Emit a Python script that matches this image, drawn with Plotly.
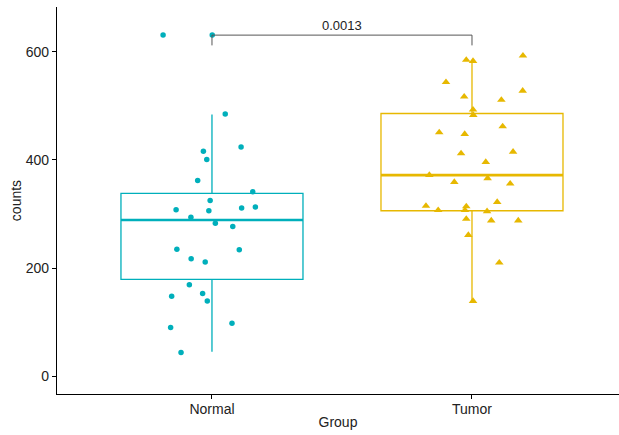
import plotly.graph_objects as go

# ---------------- data ----------------
groups = ["Normal", "Tumor"]
group_pos = [0, 1]
colors = ["#00AFBB", "#E7B800"]

normal_counts = [631, 631, 485, 416, 401, 424, 362, 341, 325, 308, 306, 311, 313, 294,
                 283, 277, 235, 217, 211, 234, 169, 148, 153, 139, 90, 98, 44]
normal_jitter = [-0.188, 0.001, 0.051, -0.033, -0.020, 0.112, -0.055, 0.157, -0.007, -0.138,
                 -0.012, 0.114, 0.167, -0.081, 0.013, 0.080, -0.135, -0.080, -0.026, 0.105,
                 -0.087, -0.155, -0.036, -0.018, -0.159, 0.077, -0.119]

tumor_counts = [585, 583, 593, 544, 517, 528, 511, 493, 483, 462, 451, 448, 412, 415, 396,
                372, 359, 366, 356, 322, 315, 307, 314, 307, 305, 291, 288, 288, 261, 210, 139]
tumor_jitter = [-0.022, 0.004, 0.196, -0.100, -0.030, 0.195, 0.113, 0.004, 0.005, 0.118,
                -0.126, -0.028, -0.042, 0.158, 0.053, -0.164, -0.068, 0.060, 0.147, 0.097,
                -0.177, -0.130, -0.022, -0.027, 0.058, -0.022, 0.074, 0.178, -0.014, 0.105, 0.004]

# box statistics per group (Normal, Tumor)
box_q1 = [179, 306]
box_median = [289, 372]
box_q3 = [338, 486]
box_lower = [45, 140]
box_upper = [484, 585]
box_width = 0.7

# significance bracket
p_label = "0.0013"
bracket_y = 631
bracket_tip = 612

y_ticks = [0, 200, 400, 600]

# ---------------- figure ----------------
fig = go.Figure()

for i, g in enumerate(groups):
    fig.add_trace(go.Box(
        x=[group_pos[i]], q1=[box_q1[i]], median=[box_median[i]], q3=[box_q3[i]],
        lowerfence=[box_lower[i]], upperfence=[box_upper[i]],
        width=box_width, whiskerwidth=0, boxpoints=False,
        line=dict(color=colors[i], width=1.3), fillcolor="rgba(255,255,255,0)",
        showlegend=False, hoverinfo="skip"))
    # thicker median line
    fig.add_trace(go.Scatter(
        x=[group_pos[i] - box_width / 2, group_pos[i] + box_width / 2],
        y=[box_median[i], box_median[i]], mode="lines",
        line=dict(color=colors[i], width=2.6), showlegend=False, hoverinfo="skip"))

fig.add_trace(go.Scatter(
    x=[group_pos[0] + j for j in normal_jitter], y=normal_counts, mode="markers",
    marker=dict(symbol="circle", size=5.5, color=colors[0]), showlegend=False))
fig.add_trace(go.Scatter(
    x=[group_pos[1] + j for j in tumor_jitter], y=tumor_counts, mode="markers",
    marker=dict(symbol="triangle-up", size=7.5, color=colors[1]), showlegend=False))

# bracket
fig.add_trace(go.Scatter(
    x=[group_pos[0], group_pos[0], group_pos[1], group_pos[1]],
    y=[bracket_tip, bracket_y, bracket_y, bracket_tip], mode="lines",
    line=dict(color="#555555", width=1), showlegend=False, hoverinfo="skip"))
fig.add_annotation(x=(group_pos[0] + group_pos[1]) / 2, y=bracket_y, text=p_label,
                   showarrow=False, yanchor="bottom", yshift=0,
                   font=dict(family="Liberation Sans, Arial", size=13, color="#222222"))

axis_font = dict(family="Liberation Sans, Arial", size=14, color="#222222")
fig.update_layout(
    width=619, height=435,
    margin=dict(l=57, r=0, t=7, b=41),
    plot_bgcolor="white", paper_bgcolor="white",
    font=axis_font,
    xaxis=dict(range=[-0.596, 1.5654], tickvals=group_pos, ticktext=groups,
               showline=True, linecolor="black", linewidth=1.3, ticks="outside",
               ticklen=4, tickcolor="black", showgrid=False, zeroline=False,
               title=dict(text="Group", font=axis_font, standoff=1),
               tickfont=axis_font, automargin=False, ticklabelstandoff=-2),
    yaxis=dict(range=[-33, 683], tickvals=y_ticks,
               showline=True, linecolor="black", linewidth=1.3, ticks="outside",
               ticklen=4, tickcolor="black", showgrid=False, zeroline=False,
               title=dict(text="counts", font=axis_font, standoff=0),
               tickfont=axis_font, automargin=False),
)

fig.write_html("out.html", config={"displayModeBar": False},
               post_script="document.body.style.margin='0';document.body.style.overflow='hidden';")
